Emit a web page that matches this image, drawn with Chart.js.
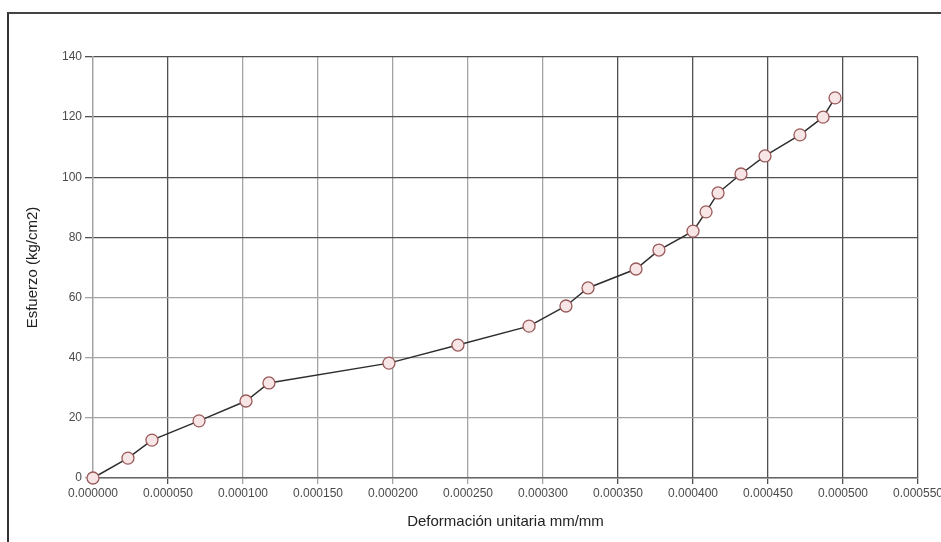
<!DOCTYPE html>
<html>
<head>
<meta charset="utf-8">
<script src="https://cdn.jsdelivr.net/npm/chart.js@4/dist/chart.umd.min.js"></script>
<style>
  html, body { margin: 0; padding: 0; background: #fff; }
  #wrap { position: relative; width: 941px; height: 542px; overflow: hidden; }
  #frame {
    position: absolute; left: 7px; top: 12px; right: -4px; bottom: -4px;
    border-left: 2px solid #333; border-top: 2px solid #444;
  }
</style>
</head>
<body>
<div id="wrap">
  <canvas id="chart" width="941" height="542"></canvas>
  <div id="frame"></div>
</div>
<script>
// Deformación unitaria (mm/mm)
const deformacion = [
    0.0000000, 0.0000233, 0.0000393, 0.0000707, 0.0001020, 0.0001173,
    0.0001973, 0.0002433, 0.0002907, 0.0003153, 0.0003300, 0.0003620,
    0.0003773, 0.0004000, 0.0004087, 0.0004167, 0.0004320, 0.0004480,
    0.0004713, 0.0004867, 0.0004947
];

// Esfuerzo (kg/cm2)
const esfuerzo = [
    0.0, 6.6, 12.6, 19.0, 25.6, 31.6,
    38.2, 44.2, 50.5, 57.2, 63.2, 69.5,
    75.8, 82.1, 88.5, 94.8, 101.1, 107.1,
    114.1, 120.0, 126.4
];

// Tick labels of both axes
const xTicks = [0, 0.00005, 0.0001, 0.00015, 0.0002, 0.00025, 0.0003, 0.00035, 0.0004, 0.00045, 0.0005, 0.00055];
const yTicks = [0, 20, 40, 60, 80, 100, 120, 140];

// some grid lines come out darker in the original picture
const darkX = [0.00005, 0.00035, 0.0004, 0.00045, 0.0005, 0.00055];
const darkY = [80, 100, 120, 140];

const points = deformacion.map((d, i) => ({ x: d, y: esfuerzo[i] }));

function isDark(list, v) {
    return list.some(d => Math.abs(d - v) < 1e-9);
}

new Chart(document.getElementById('chart'), {
    type: 'scatter',
    data: {
        datasets: [{
            data: points,
            showLine: true,
            clip: false,
            borderColor: '#2e2e2e',
            borderWidth: 1.5,
            pointRadius: 6,
            pointHoverRadius: 6,
            pointBackgroundColor: '#f8e6e6',
            pointBorderColor: '#9a5a5a',
            pointBorderWidth: 1.3
        }]
    },
    options: {
        responsive: false,
        animation: false,
        layout: { padding: { left: 10, top: 57, right: 23, bottom: 8 } },
        plugins: {
            legend: { display: false },
            tooltip: { enabled: false }
        },
        scales: {
            x: {
                type: 'linear',
                min: 0,
                max: 0.00055,
                afterBuildTicks: (scale) => { scale.ticks = xTicks.map(v => ({ value: v })); },
                afterFit: (scale) => {
                    scale.height = 56;
                    // the last label runs off the right edge, as in the original
                    scale.paddingRight = 0;
                    scale.paddingLeft = 0;
                },
                ticks: {
                    autoSkip: false,
                    maxRotation: 0,
                    padding: 2,
                    color: '#4a4a4a',
                    font: { family: 'Liberation Sans', size: 12 },
                    callback: (v) => Number(v).toFixed(6)
                },
                grid: {
                    color: (ctx) => isDark(darkX, ctx.tick ? ctx.tick.value : -1) ? '#505050' : '#a4a4a4',
                    lineWidth: 1.3,
                    tickLength: 6
                },
                border: { color: '#666', width: 1.5 },
                title: {
                    display: true,
                    text: 'Deformación unitaria mm/mm',
                    color: '#222',
                    font: { family: 'Liberation Sans', size: 15 },
                    padding: { top: 0, bottom: 3 }
                }
            },
            y: {
                type: 'linear',
                min: 0,
                max: 140,
                afterBuildTicks: (scale) => { scale.ticks = yTicks.map(v => ({ value: v })); },
                afterFit: (scale) => {
                    scale.width = 83;
                    scale.paddingTop = 0;
                    scale.paddingBottom = 0;
                },
                ticks: {
                    padding: 3,
                    color: '#4a4a4a',
                    font: { family: 'Liberation Sans', size: 12 }
                },
                grid: {
                    color: (ctx) => isDark(darkY, ctx.tick ? ctx.tick.value : -1) ? '#505050' : '#a4a4a4',
                    lineWidth: 1.3,
                    tickLength: 8
                },
                border: { color: '#a4a4a4', width: 1.3 },
                title: {
                    display: true,
                    text: 'Esfuerzo (kg/cm2)',
                    color: '#222',
                    font: { family: 'Liberation Sans', size: 15 },
                    padding: { top: 14, bottom: 0 }
                }
            }
        }
    }
});
</script>
</body>
</html>
